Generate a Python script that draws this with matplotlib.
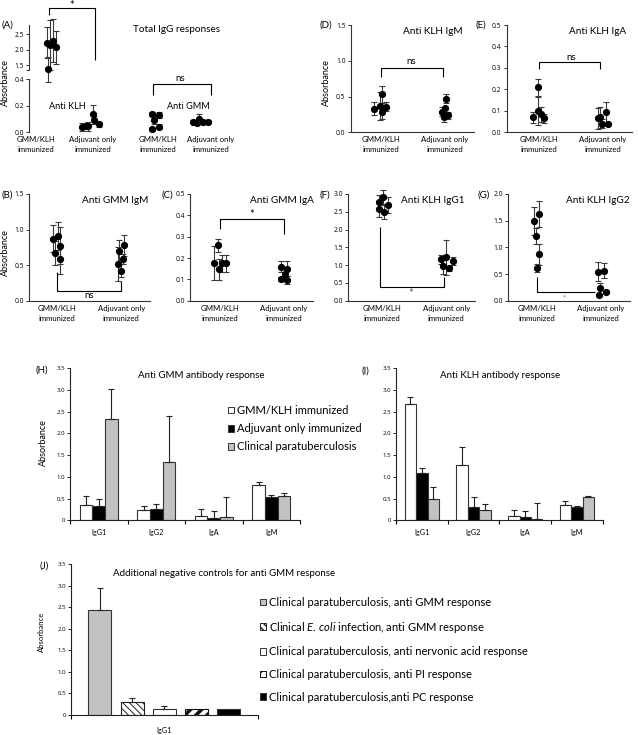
import matplotlib
matplotlib.use('Agg')
import matplotlib.pyplot as plt
import numpy as np
from matplotlib.patches import Patch

plt.rcParams['font.family'] = ['Lato', 'DejaVu Sans']
plt.rcParams['mathtext.fontset'] = 'custom'
plt.rcParams['mathtext.it'] = 'Lato:italic'
plt.rcParams['mathtext.rm'] = 'Lato'

# ---------------- data ----------------
group_labels = ['GMM/KLH\nimmunized', 'Adjuvant only\nimmunized']

# (A) Total IgG
A_klh_gmmklh = [2.22, 2.15, 2.29, 2.07, 1.36]
A_klh_gmmklh_sd = [0.50, 0.80, 0.70, 0.55, 0.40]
A_klh_adj = [0.135, 0.09, 0.045, 0.04, 0.05, 0.06]
A_klh_adj_sd = [0.07, 0.03, 0.035, 0.03, 0.02, 0.02]
A_gmm_gmmklh = [0.137, 0.13, 0.092, 0.042, 0.025]
A_gmm_gmmklh_sd = [0.012, 0.02, 0.03, 0.02, 0.015]
A_gmm_adj = [0.10, 0.08, 0.08, 0.08, 0.07]
A_gmm_adj_sd = [0.04, 0.01, 0.01, 0.01, 0.01]

# (B) Anti GMM IgM
B_g1 = [0.87, 0.67, 0.91, 0.77, 0.58]; B_g1_sd = [0.19, 0.17, 0.20, 0.26, 0.20]
B_g2 = [0.51, 0.70, 0.78, 0.58, 0.42]; B_g2_sd = [0.24, 0.16, 0.15, 0.07, 0.09]
# (C) Anti GMM IgA
C_g1 = [0.26, 0.175, 0.147, 0.175, 0.175]; C_g1_sd = [0.03, 0.08, 0.05, 0.04, 0.04]
C_g2 = [0.16, 0.15, 0.125, 0.10, 0.097]; C_g2_sd = [0.025, 0.035, 0.01, 0.01, 0.02]
# (D) Anti KLH IgM
D_g1 = [0.33, 0.37, 0.53, 0.28, 0.36]; D_g1_sd = [0.09, 0.20, 0.12, 0.10, 0.06]
D_g2 = [0.47, 0.29, 0.34, 0.21, 0.24]; D_g2_sd = [0.06, 0.06, 0.02, 0.06, 0.05]
# (E) Anti KLH IgA
E_g1 = [0.21, 0.10, 0.07, 0.085, 0.065]; E_g1_sd = [0.04, 0.065, 0.025, 0.035, 0.02]
E_g2 = [0.093, 0.07, 0.04, 0.04, 0.065]; E_g2_sd = [0.05, 0.05, 0.02, 0.005, 0.05]
# (F) Anti KLH IgG1
F_g1 = [2.78, 2.92, 2.57, 2.50, 2.69]; F_g1_sd = [0.20, 0.20, 0.22, 0.20, 0.23]
F_g2 = [1.16, 1.22, 0.97, 0.91, 1.12]; F_g2_sd = [0.13, 0.50, 0.23, 0.07, 0.12]
# (G) Anti KLH IgG2
G_g1 = [1.49, 1.62, 1.22, 0.87, 0.61]; G_g1_sd = [0.26, 0.24, 0.15, 0.20, 0.08]
G_g2 = [0.54, 0.56, 0.23, 0.11, 0.17]; G_g2_sd = [0.18, 0.14, 0.10, 0.02, 0.02]

# (H), (I) bar charts
bar_groups = ['IgG1', 'IgG2', 'IgA', 'IgM']
bar_series = ['GMM/KLH immunized', 'Adjuvant only immunized', 'Clinical paratuberculosis']
H_gmmklh = [0.35, 0.24, 0.11, 0.81]; H_gmmklh_err = [0.21, 0.09, 0.15, 0.08]
H_adj = [0.34, 0.25, 0.06, 0.54];    H_adj_err = [0.14, 0.12, 0.16, 0.04]
H_clin = [2.33, 1.35, 0.08, 0.57];   H_clin_err = [0.69, 1.05, 0.45, 0.065]
I_gmmklh = [2.67, 1.27, 0.11, 0.35]; I_gmmklh_err = [0.18, 0.41, 0.13, 0.10]
I_adj = [1.08, 0.30, 0.07, 0.30];    I_adj_err = [0.13, 0.24, 0.14, 0.04]
I_clin = [0.48, 0.24, 0.03, 0.53];   I_clin_err = [0.29, 0.13, 0.36, 0.03]

# (J)
J_category = 'IgG1'
J_labels = ['Clinical paratuberculosis, anti GMM response',
            r'Clinical $\mathit{E.\,coli}$ infection, anti GMM response',
            'Clinical paratuberculosis, anti nervonic acid response',
            'Clinical paratuberculosis, anti PI response',
            'Clinical paratuberculosis,anti PC response']
J_values = [2.43, 0.29, 0.15, 0.13, 0.13]
J_err = [0.51, 0.10, 0.06, 0.0, 0.0]

# ---------------- layout helpers ----------------
W, H = 638, 735
fig = plt.figure(figsize=(W / 100, H / 100), dpi=100)


def px_axes(l, t, r, b):
    return fig.add_axes([l / W, 1 - b / H, (r - l) / W, (b - t) / H])


def ftext(x, y, s, **kw):
    kw.setdefault('va', 'center')
    fig.text(x / W, 1 - y / H, s, **kw)


SPINE = '#333333'
EB = dict(fmt='o', color='black', ms=4.2, ecolor='#3a3a3a', elinewidth=0.8,
          capsize=2.4, capthick=0.8, zorder=3)
TICKFONT = ['Open Sans', 'DejaVu Sans']


def style_scatter(ax, bottom=True):
    for s in ['top', 'right']:
        ax.spines[s].set_visible(False)
    ax.spines['left'].set_color(SPINE)
    ax.spines['left'].set_linewidth(0.8)
    ax.spines['bottom'].set_color(SPINE)
    ax.spines['bottom'].set_linewidth(0.8)
    ax.spines['bottom'].set_visible(bottom)
    ax.tick_params(axis='y', length=2.5, width=0.7, labelsize=4.9, pad=1.2, color=SPINE)
    ax.tick_params(axis='x', length=0, labelsize=5.6, pad=3)
    ax.patch.set_alpha(0)


def set_yt(ax, ticks, labels):
    ax.set_yticks(ticks)
    ax.set_yticklabels(labels, family=TICKFONT)


def unclip(container):
    for a in container.lines[1] + container.lines[2]:
        a.set_clip_on(False)
    container.lines[0].set_clip_on(False)


def bracket(ax, xs, ys, color='black'):
    ax.plot(xs, ys, color=color, lw=0.8, clip_on=False, solid_capstyle='butt')


SP = 64.0
GPOS = np.array([1.0, 2.0])


def scatter_panel(l, t, b, xl, ylim, yticks, data, jits):
    r = l + (2.45 - xl) * SP
    ax = px_axes(l, t, r, b)
    ax.set_xlim(xl, 2.45)
    ax.set_ylim(*ylim)
    style_scatter(ax)
    set_yt(ax, yticks, ['{:.1f}'.format(v) for v in yticks])
    ax.set_xticks(GPOS)
    ax.set_xticklabels(group_labels, linespacing=1.5)
    for i, ((vals, sd), jit) in enumerate(zip(data, jits)):
        x = GPOS[i] + np.array(jit)
        c = ax.errorbar(x, vals, yerr=sd, **EB)
        unclip(c)
    return ax


# ---------------- (A) ----------------
A_pos = [22, 61, 127, 172]
A_lab = [7, 64, 129, 182]
A_j = [[-4.3, -1, 2.3, 5, -2.7], [2.7, 4.3, -2, -8, -4, 9],
       [-4.3, 3.3, -2, 3.3, -4.3], [-1.7, 2.3, 7.3, -7.7, -4.3]]
axAt = px_axes(29, 25, 235, 70.3)
axAt.set_xlim(0, 206)
axAt.set_ylim(1.33, 2.8)
style_scatter(axAt, bottom=False)
set_yt(axAt, [1.33, 1.5, 2.0, 2.5], ['', '1.5', '2.0', '2.5'])
axAt.set_xticks([])
c = axAt.errorbar(A_pos[0] + np.array(A_j[0]), A_klh_gmmklh, yerr=A_klh_gmmklh_sd, **EB)
unclip(c)
bracket(axAt, [20, 20, 66, 66], [3.13, 3.35, 3.35, 1.66])
axAt.text(43, 3.43, '*', ha='center', va='center', fontsize=8)

axAb = px_axes(29, 79, 235, 132.3)
axAb.set_xlim(0, 206)
axAb.set_ylim(0, 0.4)
style_scatter(axAb, bottom=False)
set_yt(axAb, [0, 0.2, 0.4], ['0.0', '0.2', '0.4'])
axAb.set_xticks(A_lab)
axAb.set_xticklabels(group_labels * 2, linespacing=1.5)
for k, (vals, sd) in enumerate([(A_klh_adj, A_klh_adj_sd), (A_gmm_gmmklh, A_gmm_gmmklh_sd),
                                (A_gmm_adj, A_gmm_adj_sd)]):
    c = axAb.errorbar(A_pos[k + 1] + np.array(A_j[k + 1]), vals, yerr=sd, **EB)
    unclip(c)
bracket(axAb, [124, 124, 182, 182], [0.28, 0.36, 0.36, 0.28])
axAb.text(151, 0.405, 'ns', ha='center', va='center', fontsize=7)
axAb.text(38, 0.195, 'Anti KLH', ha='center', va='center', fontsize=6.6)
axAb.text(159, 0.19, 'Anti GMM', ha='center', va='center', fontsize=6.6)
ftext(177, 30, 'Total IgG responses', ha='center', fontsize=7.2)
ftext(1, 25, '(A)', fontsize=7)
ftext(5, 83, 'Absorbance', rotation=90, ha='center', fontsize=6.5)

# ---------------- (B)-(G) ----------------
axB = scatter_panel(29, 194, 300.7, 0.56, (0, 1.5), [0, 0.5, 1.0, 1.5],
                    [(B_g1, B_g1_sd), (B_g2, B_g2_sd)],
                    [[-0.07, -0.036, 0.016, 0.05, 0.04], [-0.05, -0.03, 0.05, 0.036, 0.0]])
bracket(axB, [1.0, 1.0, 2.0, 2.0], [0.41, 0.14, 0.14, 0.27])
axB.text(1.5, 0.07, 'ns', ha='center', va='center', fontsize=7)
ftext(115, 200, 'Anti GMM IgM', ha='center', fontsize=7.2)
ftext(1, 195, '(B)', fontsize=7)
ftext(5, 253, 'Absorbance', rotation=90, ha='center', fontsize=6.5)

axC = scatter_panel(190, 194, 300.7, 0.53, (0, 0.5), [0, 0.1, 0.2, 0.3, 0.4, 0.5],
                    [(C_g1, C_g1_sd), (C_g2, C_g2_sd)],
                    [[-0.026, -0.1, -0.01, 0.026, 0.094], [-0.05, 0.05, 0.016, -0.05, 0.05]])
bracket(axC, [1.0, 1.0, 2.0, 2.0], [0.335, 0.382, 0.382, 0.313])
axC.text(1.5, 0.405, '*', ha='center', va='center', fontsize=8)
ftext(281.7, 200, 'Anti GMM IgA', ha='center', fontsize=7.2)
ftext(162, 195, '(C)', fontsize=7)

axD = scatter_panel(350.7, 25, 132.3, 0.53, (0, 1.5), [0, 0.5, 1.0, 1.5],
                    [(D_g1, D_g1_sd), (D_g2, D_g2_sd)],
                    [[-0.1, -0.02, 0.02, 0.02, 0.08], [0.016, -0.05, 0.0, -0.016, 0.05]])
bracket(axD, [1.0, 1.0, 1.98, 1.98], [0.77, 0.905, 0.905, 0.77])
axD.text(1.47, 0.99, 'ns', ha='center', va='center', fontsize=7)
ftext(433, 31.7, 'Anti KLH IgM', ha='center', fontsize=7.2)
ftext(320, 25, '(D)', fontsize=7)
ftext(326.7, 83, 'Absorbance', rotation=90, ha='center', fontsize=6.5)

axE = scatter_panel(506.7, 25, 132.3, 0.50, (0, 0.5), [0, 0.1, 0.2, 0.3, 0.4, 0.5],
                    [(E_g1, E_g1_sd), (E_g2, E_g2_sd)],
                    [[-0.016, -0.016, -0.09, 0.035, 0.09], [0.05, -0.04, -0.016, 0.09, -0.07]])
bracket(axE, [1.0, 1.0, 1.95, 1.95], [0.294, 0.326, 0.326, 0.294])
axE.text(1.5, 0.35, 'ns', ha='center', va='center', fontsize=7)
ftext(598, 31.7, 'Anti KLH IgA', ha='center', fontsize=7.2)
ftext(476, 25, '(E)', fontsize=7)

axF = scatter_panel(348.3, 194, 300.7, 0.47, (0, 3.0), [0, 0.5, 1.0, 1.5, 2.0, 2.5, 3.0],
                    [(F_g1, F_g1_sd), (F_g2, F_g2_sd)],
                    [[-0.057, 0.01, -0.057, 0.02, 0.083], [-0.08, 0.0, -0.057, 0.05, 0.1]])
bracket(axF, [0.97, 0.97, 1.97, 1.97], [2.06, 0.39, 0.39, 0.66])
axF.text(1.44, 0.21, '*', ha='center', va='center', fontsize=8, color='#555555')
ftext(433, 200, 'Anti KLH IgG1', ha='center', fontsize=7.2)
ftext(320, 195, '(F)', fontsize=7)

axG = scatter_panel(508.3, 194, 300.7, 0.55, (0, 2.0), [0, 0.5, 1.0, 1.5, 2.0],
                    [(G_g1, G_g1_sd), (G_g2, G_g2_sd)],
                    [[-0.047, 0.03, -0.01, 0.026, 0.0], [-0.05, 0.04, -0.01, -0.04, 0.08]])
bracket(axG, [1.0, 1.0, 1.9], [0.45, 0.16, 0.16])
axG.text(1.42, 0.05, '*', ha='center', va='center', fontsize=5, color='#555555')
ftext(598, 200, 'Anti KLH IgG2', ha='center', fontsize=7.2)
ftext(477, 195, '(G)', fontsize=7)

# ---------------- bar charts ----------------
BW = 0.22
BAR_STYLES = [dict(facecolor='white', edgecolor='#333333'),
              dict(facecolor='black', edgecolor='#333333'),
              dict(facecolor='#c2c2c2', edgecolor='#333333')]
ERR_KW = dict(ecolor='#222222', elinewidth=0.8, capsize=2.4, capthick=0.8, zorder=4)


def style_bar_axes(ax, xmax, centers, labels, lab_pad):
    for s in ['top', 'right']:
        ax.spines[s].set_visible(False)
    for s in ['left', 'bottom']:
        ax.spines[s].set_color('#222222')
        ax.spines[s].set_linewidth(0.8)
    ax.set_ylim(0, 3.5)
    yt = [0, 0.5, 1.0, 1.5, 2.0, 2.5, 3.0, 3.5]
    set_yt(ax, yt, ['0'] + ['{:.1f}'.format(v) for v in yt[1:]])
    ax.tick_params(axis='y', length=2, width=0.6, labelsize=4.4, pad=1.5)
    ax.set_xticks(np.arange(0, xmax + 1))
    ax.set_xticklabels([])
    ax.tick_params(axis='x', which='major', length=3, width=0.8, direction='out')
    ax.set_xticks(centers, minor=True)
    ax.set_xticklabels(labels, minor=True)
    ax.tick_params(axis='x', which='minor', length=0, labelsize=5.2, pad=lab_pad)
    ax.patch.set_alpha(0)


def bar_panel(l, t, r, b, series, errs):
    ax = px_axes(l, t, r, b)
    ax.set_xlim(0, 4)
    x = np.arange(4) + 0.5
    for k, (vals, err, st) in enumerate(zip(series, errs, BAR_STYLES)):
        ax.bar(x + (k - 1) * BW, vals, BW, yerr=[np.zeros(4), err], linewidth=0.8,
               error_kw=ERR_KW, zorder=2, **st)
    style_bar_axes(ax, 4, x, bar_groups, 6.5)
    return ax


axH = bar_panel(70, 368.3, 300, 520.3, [H_gmmklh, H_adj, H_clin],
                [H_gmmklh_err, H_adj_err, H_clin_err])
ftext(201, 376, 'Anti GMM antibody response', ha='center', fontsize=7)
ftext(36, 370, '(H)', fontsize=7)
ftext(43, 443, 'Absorbance', rotation=90, ha='center', fontsize=6.5)
handles = [Patch(linewidth=0.7, **st) for st in BAR_STYLES]
axH.legend(handles, bar_series, loc='upper left', bbox_to_anchor=(228 / W, 1 - 405 / H),
           bbox_transform=fig.transFigure, frameon=False, fontsize=8,
           handlelength=0.55, handleheight=0.55, handletextpad=0.3,
           labelspacing=0.65, borderpad=0, borderaxespad=0)

axI = bar_panel(396, 368.3, 602.7, 520.3, [I_gmmklh, I_adj, I_clin],
                [I_gmmklh_err, I_adj_err, I_clin_err])
ftext(500, 376, 'Anti KLH antibody response', ha='center', fontsize=7)
ftext(362, 371, '(I)', fontsize=7)

# ---------------- (J) ----------------
J_STYLES = [dict(facecolor='#c2c2c2', edgecolor='#333333', hatch=None),
            dict(facecolor='white', edgecolor='#222222', hatch='\\\\\\\\\\'),
            dict(facecolor='white', edgecolor='#333333', hatch=None),
            dict(facecolor='white', edgecolor='#111111', hatch='///'),
            dict(facecolor='black', edgecolor='#333333', hatch=None)]
J_HLW = [0.8, 0.7, 0.8, 2.6, 0.8]
JW = 0.123
JS = 0.173
axJ = px_axes(71, 564, 257.7, 715)
axJ.set_xlim(0, 1)
for k, (v, e, st, hl) in enumerate(zip(J_values, J_err, J_STYLES, J_HLW)):
    plt.rcParams['hatch.linewidth'] = hl
    yerr = [[0], [e]] if e > 0 else None
    bars = axJ.bar([0.5 + (k - 2) * JS], [v], JW, yerr=yerr, linewidth=0.8,
                   error_kw=ERR_KW, zorder=2, **st)
    for p in bars:
        if hasattr(p, 'set_hatch_linewidth'):
            p.set_hatch_linewidth(hl)
plt.rcParams['hatch.linewidth'] = 1.0
style_bar_axes(axJ, 1, [0.5], [J_category], 9)
ftext(113, 574, 'Additional negative controls for anti GMM response', ha='left', fontsize=7)
ftext(39, 566, '(J)', fontsize=7)
ftext(41.7, 632, 'Absorbance', rotation=90, ha='center', fontsize=5.6)
jh = []
for st, hl in zip(J_STYLES, J_HLW):
    p = Patch(linewidth=0.7, **st)
    if hasattr(p, 'set_hatch_linewidth'):
        p.set_hatch_linewidth(min(hl, 1.6))
    jh.append(p)
axJ.legend(jh, J_labels, loc='upper left', bbox_to_anchor=(260 / W, 1 - 597 / H),
           bbox_transform=fig.transFigure, frameon=False, fontsize=8,
           handlelength=0.55, handleheight=0.55, handletextpad=0.3,
           labelspacing=1.05, borderpad=0, borderaxespad=0)

fig.savefig('out.png', dpi=100)
